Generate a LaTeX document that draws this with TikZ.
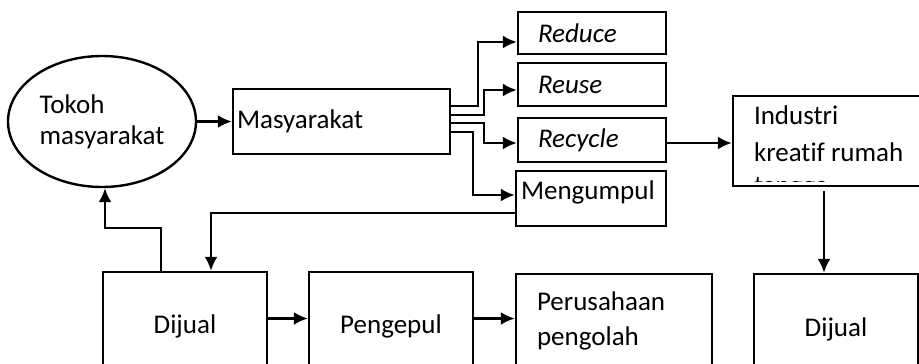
\documentclass[tikz,border=0pt]{standalone}
\usepackage{fontspec}
\setmainfont{Carlito}[Ligatures=NoCommon]
\usetikzlibrary{arrows.meta,shapes.geometric}
\tikzset{
  panah/.style={-{Latex[length=14pt,width=13pt]}},
  box/.style={draw,rectangle,inner ysep=0pt,align=left},
  rbox/.style={box,inner xsep=20pt,text width=108pt,minimum height=#1,font=\itshape},
  bbox/.style={box,align=center,minimum width=164pt,minimum height=#1},
}

\begin{document}
\fontsize{27}{35}\selectfont
\begin{tikzpicture}[x=1pt,y=-1pt,line width=2.4pt]
  \path[use as bounding box] (0,0) rectangle (919,364);
  \clip (0,0) rectangle (919,364);
  % atas
  \node[ellipse,draw,minimum width=188pt,minimum height=131pt,inner sep=0pt,align=left,
        font=\fontsize{27}{31}\selectfont] (tokoh) at (102,121.5) {Tokoh\\masyarakat};
  \node[box,text width=209pt,inner xsep=4pt,minimum height=65pt] (masy) at (341.5,121.5) {Masyarakat};
  \node[rbox=42pt] (reduce) at (592,33) {Reduce};
  \node[rbox=43pt] (reuse) at (592,84.5) {Reuse};
  \node[rbox=44pt] (recycle) at (592,140) {Recycle};
  \node[box,text width=140pt,inner xsep=5pt,minimum height=55pt,text depth=16pt] (kumpul) at (591,198.5) {Mengumpul};
  \node[box,minimum width=227pt,minimum height=90pt] (industri) at (846.5,141) {};
  \begin{scope}
    \clip (industri.north west) rectangle ([yshift=6pt]industri.south east);
    \node[anchor=north west,inner sep=0pt,align=left,font=\fontsize{27}{37}\selectfont]
      (industriteks) at ([shift={(21,10)}]industri.north west) {Industri\\kreatif rumah\\[-4pt]tangga};
  \end{scope}
  % bawah
  \node[bbox=109pt] (dijualA) at (185,326.5) {Dijual};
  \node[bbox=109pt] (pengepul) at (391,326.5) {Pengepul};
  \node[box,text width=154pt,inner xsep=21pt,minimum height=94pt] (olah) at (614,321) {Perusahaan\\pengolah};
  \node[bbox=111pt] (dijualB) at (836,329.5) {Dijual};
  % panah
  \draw[panah] (tokoh) -- (masy);
  \draw[panah] ([yshift=15.5pt]masy.east) -- ++(27,0) |- ([yshift=-9pt]reduce.west);
  \draw[panah] ([yshift=6.5pt]masy.east) -- ++(33,0) |- ([yshift=-5.5pt]reuse.west);
  \draw[panah] ([yshift=-1.5pt]masy.east) -- ++(33,0) |- ([yshift=-3pt]recycle.west);
  \draw[panah] ([yshift=-10.5pt]masy.east) -- ++(22,0) |- ([yshift=3.5pt]kumpul.west);
  \draw[panah] ([yshift=-3pt]recycle.east) -- ([yshift=-3pt]recycle.east -| industri.west);
  \coordinate (turun) at ([xshift=-12pt]dijualB.north |- industri.south);
  \draw[panah] ([yshift=-4pt]turun) -- ([xshift=-12pt]dijualB.north);
  \draw[panah] ([yshift=-14.5pt]kumpul.west) -| ([xshift=26pt]dijualA.north);
  \draw[panah] ([xshift=-24pt]dijualA.north) -- ++(0,-43) -| ([xshift=3pt]tokoh.south);
  \draw[panah] ([yshift=8pt]dijualA.east) -- ([yshift=8pt]pengepul.west);
  \draw[panah] ([yshift=8pt]pengepul.east) -- ([yshift=8pt]pengepul.east -| olah.west);
\end{tikzpicture}
\end{document}
